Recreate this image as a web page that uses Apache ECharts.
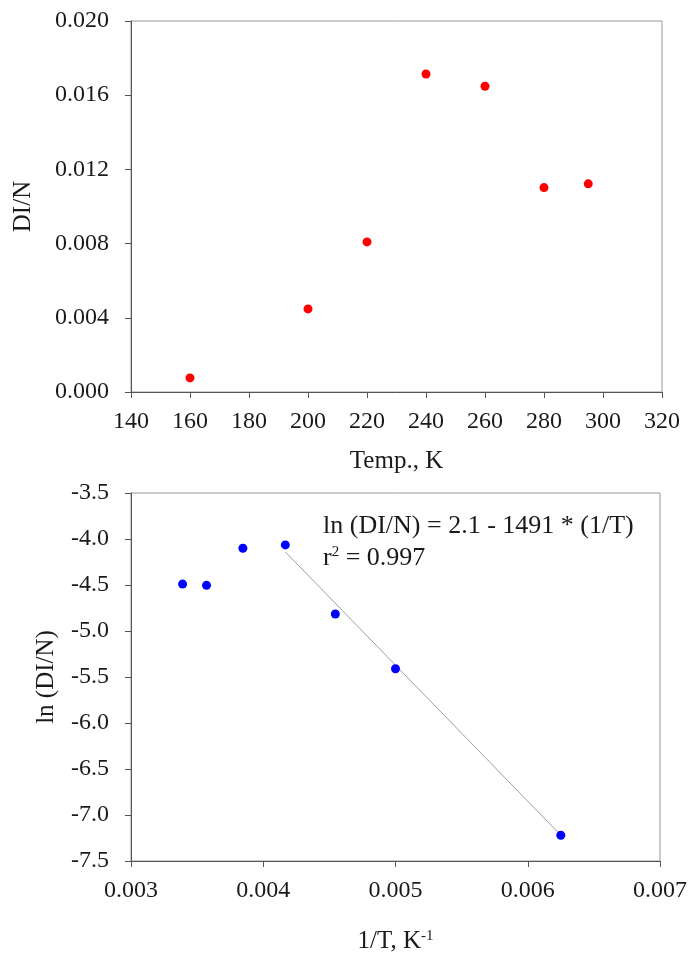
<!DOCTYPE html>
<html>
<head>
<meta charset="utf-8">
<script src="https://cdn.jsdelivr.net/npm/echarts@6/dist/echarts.min.js"></script>
<style>
html,body{margin:0;padding:0;background:#fff;}
#chart{width:690px;height:955px;}
</style>
</head>
<body>
<div id="chart"></div>
<script>
// Top panel: DI/N vs temperature
const temps = [160, 200, 220, 240, 260, 280, 295];
const diN = [0.00076, 0.00448, 0.00809, 0.01714, 0.01648, 0.01102, 0.01122];
// Bottom panel: ln(DI/N) vs 1/T
const invT = [0.00625, 0.005, 0.004545, 0.004167, 0.003846, 0.003571, 0.00339];
const lnDiN = [-7.22, -5.41, -4.815, -4.064, -4.10, -4.504, -4.49];
// Fitted line endpoints
const fitX = [0.004167, 0.00625];
const fitY = [-4.14, -7.22];
// Axis ticks
const topXTicks = [140, 160, 180, 200, 220, 240, 260, 280, 300, 320];
const topYTicks = [0.000, 0.004, 0.008, 0.012, 0.016, 0.020];
const botXTicks = [0.003, 0.004, 0.005, 0.006, 0.007];
const botYTicks = [-7.5, -7.0, -6.5, -6.0, -5.5, -5.0, -4.5, -4.0, -3.5];
const equationText = 'ln (DI/N) = 2.1 - 1491 * (1/T)';
const r2Text = '0.997';

const FONT = '"Liberation Serif", "Times New Roman", serif';
const TXT = '#1a1a1a';
const FS = 24;
const NFS = 25;
const EFS = 26;

function axisCommon() {
  return {
    axisLine: { show: true, lineStyle: { color: '#555', width: 1 } },
    axisTick: { show: true, length: 6, lineStyle: { color: '#555' } },
    splitLine: { show: false },
    axisLabel: { fontFamily: FONT, fontSize: FS, color: TXT },
    nameTextStyle: { fontFamily: FONT, fontSize: NFS, color: TXT }
  };
}

const chart = echarts.init(document.getElementById('chart'), null, { renderer: 'canvas' });

const option = {
  animation: false,
  backgroundColor: '#fff',
  grid: [
    { left: 131, right: 28, top: 21, height: 371, show: true, borderColor: '#999', borderWidth: 1, backgroundColor: 'transparent' },
    { left: 131, right: 28, top: 493, height: 369, show: true, borderColor: '#999', borderWidth: 1, backgroundColor: 'transparent' }
  ],
  title: [
    { text: equationText, left: 318, top: 508, textStyle: { fontFamily: FONT, fontSize: EFS, fontWeight: 'normal', color: TXT } },
    { text: '{a|r}{s|2}{a| = ' + r2Text + '}', left: 318, top: 540,
      textStyle: { fontWeight: 'normal', rich: {
        a: { fontFamily: FONT, fontSize: EFS, fontWeight: 'normal', color: TXT },
        s: { fontFamily: FONT, fontSize: 15, fontWeight: 'normal', color: TXT, verticalAlign: 'top' }
      } } }
  ],
  xAxis: [
    Object.assign(axisCommon(), {
      gridIndex: 0, type: 'value', min: topXTicks[0], max: topXTicks[topXTicks.length - 1], interval: 20,
      name: 'Temp., K', nameLocation: 'middle', nameGap: 57,
      axisLabel: { fontFamily: FONT, fontSize: FS, color: TXT, margin: 18 }
    }),
    Object.assign(axisCommon(), {
      gridIndex: 1, type: 'value', min: botXTicks[0], max: botXTicks[botXTicks.length - 1], interval: 0.001,
      name: '{a|1/T, K}{s|-1}', nameLocation: 'middle', nameGap: 68,
      nameTextStyle: { rich: {
        a: { fontFamily: FONT, fontSize: NFS, color: TXT },
        s: { fontFamily: FONT, fontSize: 15, color: TXT, verticalAlign: 'top' }
      } },
      axisLabel: { fontFamily: FONT, fontSize: FS, color: TXT, margin: 18, formatter: v => v.toFixed(3) }
    })
  ],
  yAxis: [
    Object.assign(axisCommon(), {
      gridIndex: 0, type: 'value', min: topYTicks[0], max: topYTicks[topYTicks.length - 1], interval: 0.004,
      name: 'DI/N', nameLocation: 'middle', nameGap: 95,
      axisLabel: { fontFamily: FONT, fontSize: FS, color: TXT, margin: 22, formatter: v => v.toFixed(3) }
    }),
    Object.assign(axisCommon(), {
      gridIndex: 1, type: 'value', min: botYTicks[0], max: botYTicks[botYTicks.length - 1], interval: 0.5,
      name: 'ln (DI/N)', nameLocation: 'middle', nameGap: 72,
      axisLabel: { fontFamily: FONT, fontSize: FS, color: TXT, margin: 22, formatter: v => v.toFixed(1) }
    })
  ],
  series: [
    {
      type: 'scatter', xAxisIndex: 0, yAxisIndex: 0,
      data: temps.map((t, i) => [t, diN[i]]),
      symbol: 'circle', symbolSize: 9,
      itemStyle: { color: '#ff0000', opacity: 1 }
    },
    {
      type: 'line', xAxisIndex: 1, yAxisIndex: 1,
      data: fitX.map((x, i) => [x, fitY[i]]),
      showSymbol: false, symbol: 'none',
      lineStyle: { color: '#a0a0a0', width: 1 },
      z: 1
    },
    {
      type: 'scatter', xAxisIndex: 1, yAxisIndex: 1,
      data: invT.map((x, i) => [x, lnDiN[i]]),
      symbol: 'circle', symbolSize: 9,
      itemStyle: { color: '#0000ff', opacity: 1 },
      z: 3
    }
  ]
};
chart.setOption(option);
</script>
</body>
</html>
